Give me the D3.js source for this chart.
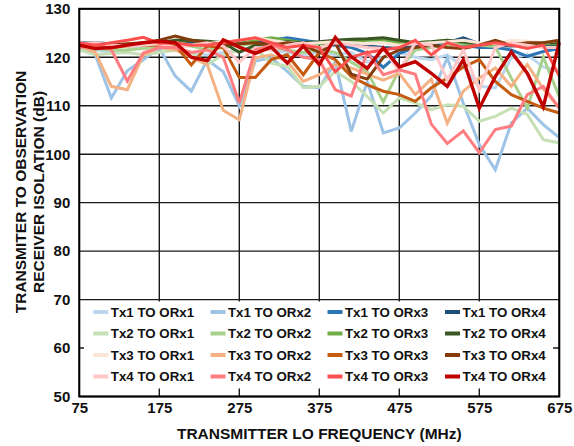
<!DOCTYPE html>
<html><head><meta charset="utf-8">
<script src="https://cdn.jsdelivr.net/npm/d3@7"></script>
<style>html,body{margin:0;padding:0;background:#fff;}svg{display:block;}</style>
</head><body>
<svg id="c" width="574" height="446"></svg>
<script>
const freqs = [75,95,115,135,155,175,195,215,235,255,275,295,315,335,355,375,395,415,435,455,475,495,515,535,555,575,595,615,635,655,675];
const xTicks = [75,175,275,375,475,575,675];
const yTicks = [50,60,70,80,90,100,110,120,130];
const seriesNames = ["Tx1 TO ORx1","Tx1 TO ORx2","Tx1 TO ORx3","Tx1 TO ORx4",
  "Tx2 TO ORx1","Tx2 TO ORx2","Tx2 TO ORx3","Tx2 TO ORx4",
  "Tx3 TO ORx1","Tx3 TO ORx2","Tx3 TO ORx3","Tx3 TO ORx4",
  "Tx4 TO ORx1","Tx4 TO ORx2","Tx4 TO ORx3","Tx4 TO ORx4"];
const seriesColors = ["#bdd7ee","#9dc3e6","#2e75b6","#1f4e79",
  "#c5e0b4","#a9d18e","#70ad47","#385723",
  "#fbe5d6","#f4b183","#c55a11","#843c0c",
  "#ffc7c7","#ff7c80","#ff5050","#c00000"];

const tx1orx1 = [122.5,121.5,121,121.5,122,122,121.5,121,120.5,121,121.5,122,121.5,121,120.5,121,120.5,121,119,120,121,120,119.5,120.5,118,114,113.7,119.9,120.5,118,117];
const tx1orx2 = [122.3,120.5,111.6,117.2,119.5,121.9,116.1,113,119.5,117,110,119.2,119.9,117.1,114,113.7,119,104.7,115,104.4,105.4,108.5,112,119.9,110.5,102,96.8,106.4,109.5,106.1,103.4];
const tx1orx3 = [123,123,122.8,122.5,122.5,122.8,123,122.8,122.5,122.8,123,123.2,123.5,124,123.5,123,122.5,122,120.8,117.9,120.8,122,122.5,123,122.5,122,122,121.5,120.2,121.2,121.8];
const tx1orx4 = [122.8,122.5,122.5,122.6,122.7,122.8,123,123,122.8,122.6,122.8,123,123,123.2,123,122.8,122.8,122.5,122.3,122,121.8,122.5,122.8,123,124,122.8,122.5,122.3,122.5,122.5,122.5];
const tx2orx1 = [121.5,120.5,120.8,121,120.5,121,121.5,121,118.5,120.5,121.5,121.9,118.8,118.1,113.7,114,117.1,115,111.9,108.5,111.6,110.6,109.2,110.2,109.9,106.8,107.8,109.5,108.2,103,102.3];
const tx2orx2 = [122,121.8,121.5,121.5,121.8,122,122.5,122.3,121.5,122,122.5,122.8,122,121.5,121,121.5,121,119,117,110.8,117.5,121.5,122,122.5,122.8,122.5,122.2,115.7,109.5,120,111.8];
const tx2orx3 = [122.3,122,122,122.5,122.8,123,123.2,123.5,123,122.5,122.8,123.5,124,123.5,123,122.8,123,123.3,123.5,123.6,123,123,123.2,123.5,123,122.5,122.8,122.5,122.3,122.8,122.8];
const tx2orx4 = [122.8,122.5,122.3,122.5,122.8,123,123.5,123.5,123.3,123,121,122.5,123,123.2,123,123.2,123.5,123.7,123.8,124,123.5,123,123.2,123.5,123.2,122.8,123,123,122.8,123,123];
const tx3orx1 = [123,122.5,122.3,122.5,122.8,123,123,122.5,122.8,123.2,123.5,124,123.5,123,122.8,123,123.2,123,122.8,123,122.5,122.8,123,123.2,123.5,123,122.8,123.5,123.3,123,123.5];
const tx3orx2 = [122.3,121,114,113.3,120.5,122,121.5,120,118.5,109,107.1,119.9,120.5,119.2,115,116.4,118.5,117.8,116.5,115.3,116.7,112.3,115.5,106.4,113,115.7,117.8,114,118.5,113.5,109.5];
const tx3orx3 = [122.5,122,122,122.3,122.5,122.5,122.5,118.4,122.3,122,115.8,115.8,119.5,120.5,116.4,121,119.5,116,114.3,113,112.3,110.9,113.7,115.7,118,119.5,115,112.3,110.9,109.5,108.5];
const tx3orx4 = [122.5,122.3,122.5,122.8,123,123.5,124.4,123.5,123,122.5,122.8,123,122.5,123,122.5,121,123,116.5,115.5,120,121.5,122,122.5,122,121.8,122.5,123.5,122.5,123,123,123.5];
const tx4orx1 = [122.8,123,122.5,122.3,122.5,122.8,122,122.5,123,122.3,119,122,121.5,122.5,123,122,123,122.5,122,121.8,117.1,123,122.5,115.3,121.5,113.3,122,123,122.5,122,122];
const tx4orx2 = [122,122.5,121.6,115.1,120.9,122,122,121,121.5,120,110.6,121.5,122.5,121.5,120,119.5,113.3,112,121,116.4,117.4,116.5,106.2,102.2,104.8,100.3,105.1,105.8,112.3,114,109.5];
const tx4orx3 = [123,122.5,123,123.5,124.1,122.9,123,122.5,122.5,123,123.5,124,123,122,122.5,122,117,120,121,121.5,122,123.5,120.5,123,122,122.5,123,122.5,121.8,122.5,116.1];
const tx4orx4 = [122.5,121.8,122,122.5,123,123.3,123,120,119.3,123.6,122.1,120.8,122.1,118.8,122.3,118.5,124.1,120.1,117.7,121.9,118,119.1,116.7,114,119.5,109.5,116,121.1,116.7,109.8,123.1];

const seriesValues = [tx1orx1,tx1orx2,tx1orx3,tx1orx4,tx2orx1,tx2orx2,tx2orx3,tx2orx4,
  tx3orx1,tx3orx2,tx3orx3,tx3orx4,tx4orx1,tx4orx2,tx4orx3,tx4orx4];

const svg = d3.select("#c");
const L = 79.3, R = 559.3, T = 8.8, B = 396.5;
const x = d3.scaleLinear().domain([75,675]).range([L,R]);
const y = d3.scaleLinear().domain([50,130]).range([B,T]);
const font = "'Liberation Sans', Arial, sans-serif";

// gridlines
const grid = svg.append("g");
grid.selectAll("line.h").data(yTicks).enter().append("line")
  .attr("x1",L).attr("x2",R).attr("y1",d=>y(d)).attr("y2",d=>y(d))
  .attr("stroke","#1a1a1a").attr("stroke-width",1.4);
grid.selectAll("line.v").data(xTicks).enter().append("line")
  .attr("y1",T).attr("y2",B).attr("x1",d=>x(d)).attr("x2",d=>x(d))
  .attr("stroke","#1a1a1a").attr("stroke-width",1.4);

// lines
const line = d3.line().x((d,i)=>x(freqs[i])).y(d=>y(d));
const gl = svg.append("g");
seriesValues.forEach((vals,k)=>{
  gl.append("path").datum(vals).attr("d",line)
    .attr("fill","none").attr("stroke",seriesColors[k])
    .attr("stroke-width", k===15 ? 3.4 : 3)
    .attr("stroke-linejoin","miter").attr("stroke-miterlimit",3);
});

// legend
const lg = svg.append("g");
lg.append("rect").attr("x",84).attr("y",301.5).attr("width",469).attr("height",87).attr("fill","#fff");
const colX = [93.3,210.5,327.5,445];
const rowY = [312,333.5,355,376.5];
seriesNames.forEach((n,k)=>{
  const c = k%4, r = Math.floor(k/4);
  const g = lg.append("g").attr("transform",`translate(${colX[c]},${rowY[r]})`);
  g.append("line").attr("x1",0).attr("x2",15).attr("y1",0).attr("y2",0)
    .attr("stroke",seriesColors[k]).attr("stroke-width",4);
  g.append("text").attr("x",17.5).attr("y",0).attr("dy","0.36em")
    .attr("font-family",font).attr("font-weight","bold").attr("font-size","13.3px")
    .attr("fill","#111").text(n);
});

// frame
svg.append("rect").attr("x",L).attr("y",T).attr("width",R-L).attr("height",B-T)
  .attr("fill","none").attr("stroke","#000").attr("stroke-width",2);

// axes labels
const yAxis = d3.axisLeft(y).tickValues(yTicks).tickSize(0).tickPadding(9);
const ya = svg.append("g").attr("transform",`translate(${L},0)`).call(yAxis);
ya.select(".domain").remove();
ya.selectAll("text").attr("font-family",font).attr("font-weight","bold").attr("font-size","15px").attr("fill","#111");

const xAxis = d3.axisBottom(x).tickValues(xTicks).tickSize(0).tickPadding(6);
const xa = svg.append("g").attr("transform",`translate(0,${B})`).call(xAxis);
xa.select(".domain").remove();
xa.selectAll("text").attr("font-family",font).attr("font-weight","bold").attr("font-size","15px").attr("fill","#111");

svg.append("text").attr("x",(L+R)/2).attr("y",438.5).attr("text-anchor","middle")
  .attr("font-family",font).attr("font-weight","bold").attr("font-size","15.5px").attr("fill","#111")
  .text("TRANSMITTER LO FREQUENCY (MHz)");

const yt = svg.append("text").attr("transform","translate(0,192) rotate(-90)")
  .attr("text-anchor","middle").attr("font-family",font).attr("font-weight","bold")
  .attr("font-size","15.5px").attr("fill","#111");
yt.append("tspan").attr("x",0).attr("y",26).text("TRANSMITER TO OBSERVATION");
yt.append("tspan").attr("x",0).attr("y",44).text("RECEIVER ISOLATION (dB)");
</script>
</body></html>
